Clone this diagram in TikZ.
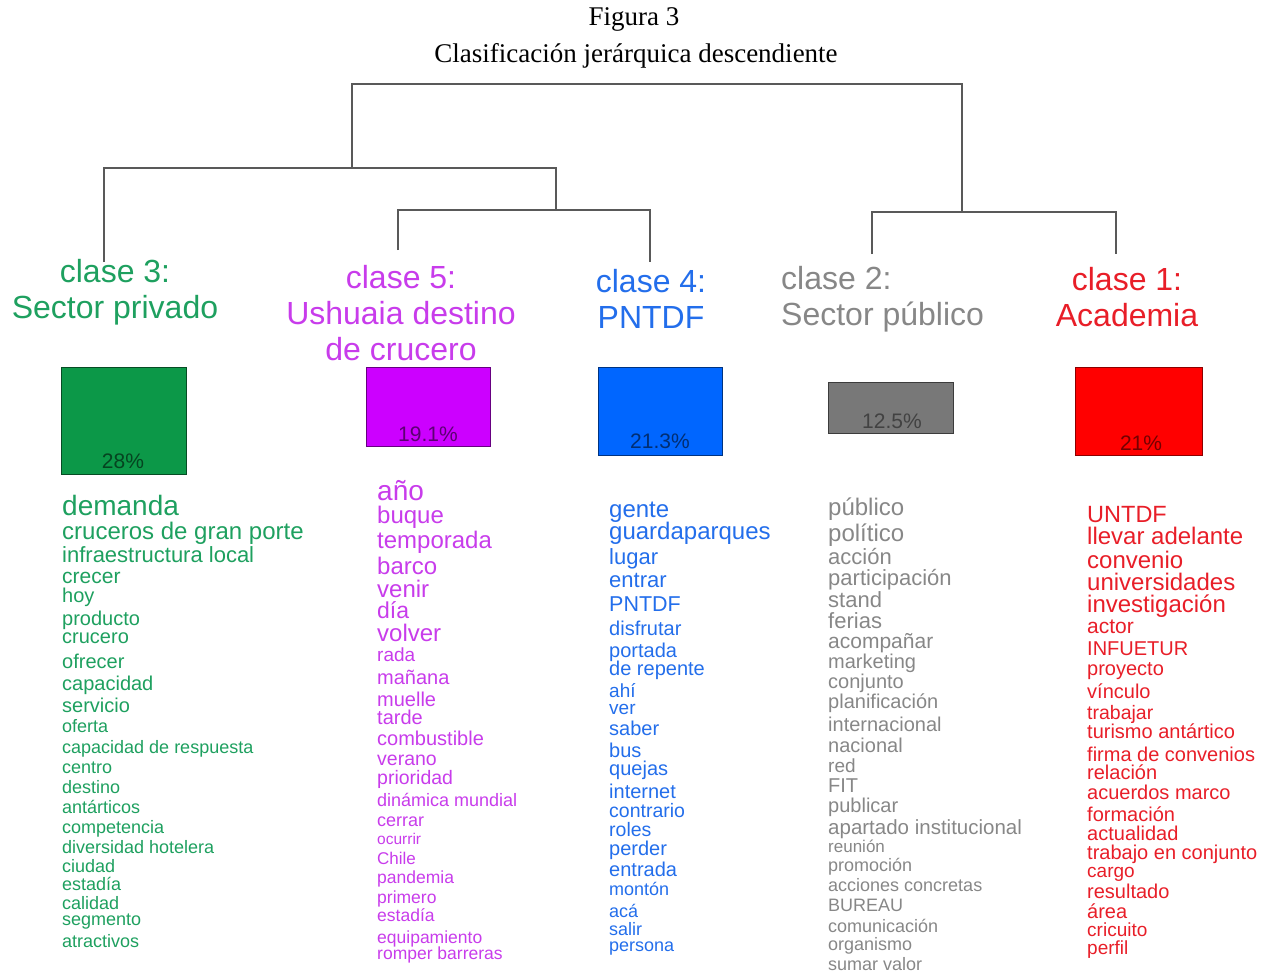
\documentclass[tikz,border=0pt]{standalone}
\usepackage{fontspec}
\setsansfont{Liberation Sans}
\newfontfamily\titlefont{Liberation Serif}
\usepackage{xcolor}
\usepackage{tikz}
\usetikzlibrary{positioning}

\definecolor{cgreen}{RGB}{30,160,95}
\definecolor{cmag}{RGB}{200,60,235}
\definecolor{cblue}{RGB}{35,110,235}
\definecolor{cgray}{RGB}{135,135,135}
\definecolor{cred}{RGB}{232,30,40}
\definecolor{bgreen}{RGB}{12,152,72}
\definecolor{bmag}{RGB}{204,0,255}
\definecolor{bblue}{RGB}{0,102,255}
\definecolor{bgray}{RGB}{120,120,120}
\definecolor{bred}{RGB}{255,0,0}

\begin{document}
\begin{tikzpicture}[x=1pt,y=-1pt]
\tikzstyle{tree}=[draw=black!65,line width=1.3pt]
\tikzstyle{head}=[align=center,inner sep=0pt,font=\sffamily\fontsize{32}{36}\selectfont]
\tikzstyle{bar}=[rectangle,inner sep=0pt,line width=0.8pt]
\tikzstyle{pct}=[inner sep=0pt,font=\sffamily\fontsize{21}{21}\selectfont]
\tikzset{wd/.style={anchor=mid west,inner sep=0pt,yshift={-0.24*#1},font=\sffamily\fontsize{#1}{#1}\selectfont}}
\useasboundingbox (0,0) rectangle (1268,972);

% title
\node[font=\titlefont\fontsize{27}{27}\selectfont] (fig) at (634,19) {Figura 3};
\node[font=\titlefont\fontsize{27}{27}\selectfont] (tit) at (636,56) {Clasificación jerárquica descendiente};

% dendrogram
\coordinate (t3) at (104,262);
\coordinate (t5) at (398,250);
\coordinate (t4) at (650,262);
\coordinate (t2) at (872,254);
\coordinate (t1) at (1116,254);
\coordinate (j54) at (556,210);
\coordinate (j354) at (352,168);
\coordinate (j21) at (962,212);
\coordinate (r0) at (650,84);
\draw[tree] (t5) |- (j54) -| (t4);
\draw[tree] (t3) |- (j354) -| (j54);
\draw[tree] (t2) |- (j21) -| (t1);
\draw[tree] (j354) |- (r0) -| (j21);

% classes
\node[head,text=cgreen] (cl3) at (115,292) {clase 3:\\Sector privado};
\node[head,text=cmag] (cl5) at (401,313) {clase 5:\\Ushuaia destino\\de crucero};
\node[head,text=cblue] (cl4) at (651,299) {clase 4:\\PNTDF};
\node[head,text=cgray,align=left,anchor=west] (cl2) at (781,299) {clase 2:\\Sector público};
\node[head,text=cred] (cl1) at (1127,297) {clase 1:\\Academia};

% bars
\node[bar,fill=bgreen,draw=bgreen!50!black,minimum width=125pt,minimum height=107pt] (box3) at (123.5,420.5) {};
\node[bar,fill=bmag,draw=bmag!50!black,minimum width=124pt,minimum height=79pt] (box5) at (428,406.5) {};
\node[bar,fill=bblue,draw=bblue!50!black,minimum width=124pt,minimum height=88pt] (box4) at (660,411) {};
\node[bar,fill=bgray,draw=bgray!50!black,minimum width=125pt,minimum height=51pt] (box2) at (890.5,407.5) {};
\node[bar,fill=bred,draw=bred!55!black,minimum width=127pt,minimum height=88pt] (box1) at (1138.5,411) {};
\node[pct,text=bgreen!45!black] (pct3) at (123,461) {28\%};
\node[pct,text=bmag!45!black] (pct5) at (428,434) {19.1\%};
\node[pct,text=bblue!45!black] (pct4) at (660,441) {21.3\%};
\node[pct,text=bgray!55!black] (pct2) at (892,421) {12.5\%};
\node[pct,text=bred!45!black] (pct1) at (1141,443) {21\%};

% clase 3 words
\node[wd=28,text=cgreen] (gw1) at (62,507) {demanda};
\node[wd=24,text=cgreen] (gw2) at (62,532) {cruceros de gran porte};
\node[wd=22,text=cgreen] (gw3) at (62,555) {infraestructura local};
\node[wd=21,text=cgreen] (gw4) at (62,576) {crecer};
\node[wd=20,text=cgreen] (gw5) at (62,596) {hoy};
\node[wd=20,text=cgreen] (gw6) at (62,619) {producto};
\node[wd=20,text=cgreen] (gw7) at (62,637) {crucero};
\node[wd=20,text=cgreen] (gw8) at (62,662) {ofrecer};
\node[wd=20,text=cgreen] (gw9) at (62,684) {capacidad};
\node[wd=20,text=cgreen] (gw10) at (62,706) {servicio};
\node[wd=18,text=cgreen] (gw11) at (62,726) {oferta};
\node[wd=18,text=cgreen] (gw12) at (62,747) {capacidad de respuesta};
\node[wd=18,text=cgreen] (gw13) at (62,767) {centro};
\node[wd=18,text=cgreen] (gw14) at (62,787) {destino};
\node[wd=18,text=cgreen] (gw15) at (62,807) {antárticos};
\node[wd=18,text=cgreen] (gw16) at (62,827) {competencia};
\node[wd=18,text=cgreen] (gw17) at (62,847) {diversidad hotelera};
\node[wd=18,text=cgreen] (gw18) at (62,866) {ciudad};
\node[wd=18,text=cgreen] (gw19) at (62,884) {estadía};
\node[wd=18,text=cgreen] (gw20) at (62,903) {calidad};
\node[wd=18,text=cgreen] (gw21) at (62,919) {segmento};
\node[wd=18,text=cgreen] (gw22) at (62,941) {atractivos};

% clase 5 words
\node[wd=28,text=cmag] (mw1) at (377,492) {año};
\node[wd=24,text=cmag] (mw2) at (377,516) {buque};
\node[wd=24,text=cmag] (mw3) at (377,541) {temporada};
\node[wd=24,text=cmag] (mw4) at (377,567) {barco};
\node[wd=24,text=cmag] (mw5) at (377,590) {venir};
\node[wd=23,text=cmag] (mw6) at (377,611) {día};
\node[wd=24,text=cmag] (mw7) at (377,634) {volver};
\node[wd=19,text=cmag] (mw8) at (377,655) {rada};
\node[wd=20,text=cmag] (mw9) at (377,678) {mañana};
\node[wd=20,text=cmag] (mw10) at (377,700) {muelle};
\node[wd=20,text=cmag] (mw11) at (377,718) {tarde};
\node[wd=20,text=cmag] (mw12) at (377,739) {combustible};
\node[wd=19.5,text=cmag] (mw13) at (377,759) {verano};
\node[wd=19.5,text=cmag] (mw14) at (377,778) {prioridad};
\node[wd=18,text=cmag] (mw15) at (377,800) {dinámica mundial};
\node[wd=18,text=cmag] (mw16) at (377,820) {cerrar};
\node[wd=15.5,text=cmag] (mw17) at (377,839) {ocurrir};
\node[wd=17,text=cmag] (mw18) at (377,858) {Chile};
\node[wd=17.5,text=cmag] (mw19) at (377,877) {pandemia};
\node[wd=17.5,text=cmag] (mw20) at (377,897) {primero};
\node[wd=17.5,text=cmag] (mw21) at (377,915) {estadía};
\node[wd=17.5,text=cmag] (mw22) at (377,937) {equipamiento};
\node[wd=17.5,text=cmag] (mw23) at (377,953) {romper barreras};

% clase 4 words
\node[wd=24,text=cblue] (bw1) at (609,510) {gente};
\node[wd=24,text=cblue] (bw2) at (609,532) {guardaparques};
\node[wd=22,text=cblue] (bw3) at (609,557) {lugar};
\node[wd=22,text=cblue] (bw4) at (609,580) {entrar};
\node[wd=21.5,text=cblue] (bw5) at (609,604) {PNTDF};
\node[wd=20,text=cblue] (bw6) at (609,629) {disfrutar};
\node[wd=20,text=cblue] (bw7) at (609,651) {portada};
\node[wd=20,text=cblue] (bw8) at (609,669) {de repente};
\node[wd=19,text=cblue] (bw9) at (609,691) {ahí};
\node[wd=19,text=cblue] (bw10) at (609,708) {ver};
\node[wd=20,text=cblue] (bw11) at (609,729) {saber};
\node[wd=20,text=cblue] (bw12) at (609,751) {bus};
\node[wd=20,text=cblue] (bw13) at (609,769) {quejas};
\node[wd=20,text=cblue] (bw14) at (609,792) {internet};
\node[wd=19.5,text=cblue] (bw15) at (609,811) {contrario};
\node[wd=19.5,text=cblue] (bw16) at (609,830) {roles};
\node[wd=20,text=cblue] (bw17) at (609,849) {perder};
\node[wd=20,text=cblue] (bw18) at (609,870) {entrada};
\node[wd=18,text=cblue] (bw19) at (609,889) {montón};
\node[wd=18,text=cblue] (bw20) at (609,911) {acá};
\node[wd=18,text=cblue] (bw21) at (609,929) {salir};
\node[wd=18,text=cblue] (bw22) at (609,945) {persona};

% clase 2 words
\node[wd=24,text=cgray] (pw1) at (828,508) {público};
\node[wd=24,text=cgray] (pw2) at (828,534) {político};
\node[wd=22,text=cgray] (pw3) at (828,557) {acción};
\node[wd=22,text=cgray] (pw4) at (828,578) {participación};
\node[wd=22,text=cgray] (pw5) at (828,600) {stand};
\node[wd=22,text=cgray] (pw6) at (828,621) {ferias};
\node[wd=21,text=cgray] (pw7) at (828,641) {acompañar};
\node[wd=20,text=cgray] (pw8) at (828,662) {marketing};
\node[wd=20,text=cgray] (pw9) at (828,682) {conjunto};
\node[wd=20,text=cgray] (pw10) at (828,702) {planificación};
\node[wd=20,text=cgray] (pw11) at (828,725) {internacional};
\node[wd=20,text=cgray] (pw12) at (828,746) {nacional};
\node[wd=19,text=cgray] (pw13) at (828,766) {red};
\node[wd=20,text=cgray] (pw14) at (828,786) {FIT};
\node[wd=20,text=cgray] (pw15) at (828,806) {publicar};
\node[wd=20.5,text=cgray] (pw16) at (828,827) {apartado institucional};
\node[wd=17,text=cgray] (pw17) at (828,846) {reunión};
\node[wd=18,text=cgray] (pw18) at (828,865) {promoción};
\node[wd=18,text=cgray] (pw19) at (828,885) {acciones concretas};
\node[wd=18,text=cgray] (pw20) at (828,905) {BUREAU};
\node[wd=18,text=cgray] (pw21) at (828,926) {comunicación};
\node[wd=18,text=cgray] (pw22) at (828,944) {organismo};
\node[wd=18,text=cgray] (pw23) at (828,964) {sumar valor};

% clase 1 words
\node[wd=23.5,text=cred] (rw1) at (1087,515) {UNTDF};
\node[wd=24,text=cred] (rw2) at (1087,537) {llevar adelante};
\node[wd=24,text=cred] (rw3) at (1087,561) {convenio};
\node[wd=24,text=cred] (rw4) at (1087,583) {universidades};
\node[wd=24,text=cred] (rw5) at (1087,605) {investigación};
\node[wd=21,text=cred] (rw6) at (1087,626) {actor};
\node[wd=20,text=cred] (rw7) at (1087,649) {INFUETUR};
\node[wd=20,text=cred] (rw8) at (1087,669) {proyecto};
\node[wd=20,text=cred] (rw9) at (1087,692) {vínculo};
\node[wd=19.5,text=cred] (rw10) at (1087,713) {trabajar};
\node[wd=20,text=cred] (rw11) at (1087,732) {turismo antártico};
\node[wd=20,text=cred] (rw12) at (1087,755) {firma de convenios};
\node[wd=20,text=cred] (rw13) at (1087,773) {relación};
\node[wd=20,text=cred] (rw14) at (1087,793) {acuerdos marco};
\node[wd=20,text=cred] (rw15) at (1087,815) {formación};
\node[wd=20,text=cred] (rw16) at (1087,834) {actualidad};
\node[wd=20,text=cred] (rw17) at (1087,853) {trabajo en conjunto};
\node[wd=19,text=cred] (rw18) at (1087,871) {cargo};
\node[wd=20,text=cred] (rw19) at (1087,892) {resultado};
\node[wd=20,text=cred] (rw20) at (1087,912) {área};
\node[wd=19,text=cred] (rw21) at (1087,930) {cricuito};
\node[wd=19,text=cred] (rw22) at (1087,948) {perfil};
\end{tikzpicture}
\end{document}
